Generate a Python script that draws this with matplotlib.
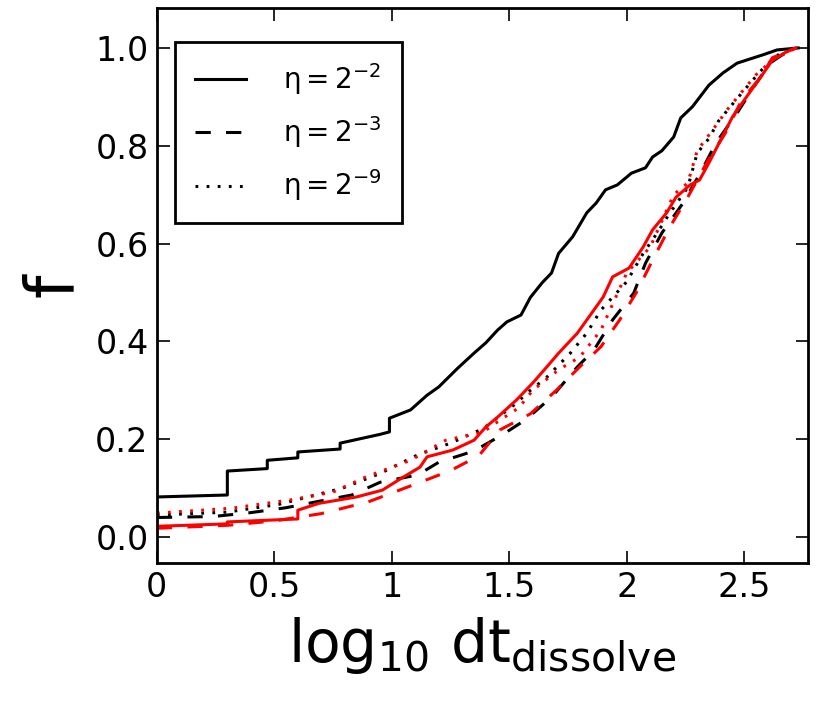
import matplotlib
matplotlib.use("Agg")
import matplotlib.pyplot as plt

# --- donnees (x = log10 dt_dissolve, y = f) ---
labels = [r"$\mathregular{\eta = 2^{-2}}$",
          r"$\mathregular{\eta = 2^{-3}}$",
          r"$\mathregular{\eta = 2^{-9}}$"]

# eta = 2^-2
x_e2_k = [0, 0.30, 0.30, 0.47, 0.47, 0.60, 0.60, 0.78, 0.78, 0.95, 0.99, 0.99, 1.08,
          1.15, 1.20, 1.28, 1.35, 1.40, 1.45, 1.49, 1.55, 1.59, 1.64, 1.68, 1.71,
          1.77, 1.83, 1.87, 1.91, 1.96, 2.02, 2.08, 2.11, 2.15, 2.20, 2.23, 2.28,
          2.35, 2.41, 2.47, 2.58, 2.64, 2.73]
y_e2_k = [0.082, 0.086, 0.135, 0.140, 0.157, 0.162, 0.174, 0.180, 0.192, 0.21, 0.215,
          0.243, 0.26, 0.29, 0.307, 0.345, 0.376, 0.397, 0.423, 0.44, 0.454, 0.49,
          0.52, 0.54, 0.58, 0.614, 0.663, 0.683, 0.71, 0.72, 0.744, 0.755, 0.777,
          0.79, 0.818, 0.857, 0.88, 0.924, 0.949, 0.969, 0.986, 0.996, 1.0]
x_e2_r = [0, 0.30, 0.30, 0.60, 0.60, 0.69, 0.85, 0.96, 1.03, 1.12, 1.15, 1.26, 1.35,
          1.40, 1.45, 1.53, 1.60, 1.66, 1.71, 1.79, 1.86, 1.90, 1.94, 2.01, 2.07,
          2.11, 2.17, 2.21, 2.27, 2.31, 2.35, 2.40, 2.45, 2.51, 2.57, 2.62, 2.68, 2.72]
y_e2_r = [0.022, 0.027, 0.031, 0.037, 0.055, 0.069, 0.082, 0.096, 0.117, 0.143, 0.164,
          0.178, 0.198, 0.225, 0.245, 0.28, 0.315, 0.348, 0.376, 0.417, 0.464, 0.491,
          0.532, 0.55, 0.593, 0.628, 0.663, 0.695, 0.72, 0.73, 0.765, 0.812, 0.859,
          0.90, 0.94, 0.975, 0.992, 1.0]

# eta = 2^-3
x_e3_k = [0, 0.24, 0.40, 0.55, 0.71, 0.83, 0.95, 1.11, 1.20, 1.35, 1.47, 1.57, 1.68,
          1.79, 1.86, 1.94, 2.03, 2.08, 2.15, 2.24, 2.32, 2.38, 2.47, 2.54, 2.61,
          2.68, 2.72]
y_e3_k = [0.04, 0.042, 0.05, 0.06, 0.075, 0.086, 0.112, 0.127, 0.153, 0.176, 0.209,
          0.24, 0.286, 0.348, 0.382, 0.444, 0.499, 0.56, 0.622, 0.683, 0.75, 0.806,
          0.867, 0.92, 0.969, 0.992, 1.0]
x_e3_r = [0, 0.30, 0.50, 0.70, 0.90, 1.11, 1.25, 1.37, 1.46, 1.59, 1.70, 1.80, 1.89,
          1.97, 2.04, 2.11, 2.18, 2.26, 2.34, 2.42, 2.49, 2.57, 2.62, 2.72]
y_e3_r = [0.018, 0.024, 0.033, 0.048, 0.072, 0.110, 0.136, 0.166, 0.219, 0.252, 0.30,
          0.348, 0.389, 0.444, 0.499, 0.566, 0.631, 0.695, 0.765, 0.826, 0.894, 0.94,
          0.98, 1.0]

# eta = 2^-9
x_e9_k = [0, 0.30, 0.52, 0.79, 0.95, 1.11, 1.25, 1.39, 1.52, 1.59, 1.66, 1.76, 1.83,
          1.89, 2.0, 2.07, 2.13, 2.18, 2.26, 2.30, 2.35, 2.39, 2.45, 2.52, 2.58,
          2.65, 2.72]
y_e9_k = [0.045, 0.051, 0.067, 0.10, 0.13, 0.168, 0.192, 0.222, 0.27, 0.30, 0.327,
          0.376, 0.417, 0.464, 0.522, 0.58, 0.622, 0.66, 0.715, 0.785, 0.815,
          0.85, 0.885, 0.925, 0.958, 0.988, 1.0]
x_e9_r = [0, 0.32, 0.57, 0.75, 0.89, 1.08, 1.23, 1.39, 1.46, 1.54, 1.60, 1.71, 1.80,
          1.89, 2.0, 2.10, 2.20, 2.26, 2.30, 2.37, 2.43, 2.49, 2.55, 2.62, 2.72]
y_e9_r = [0.049, 0.059, 0.076, 0.092, 0.123, 0.157, 0.198, 0.215, 0.239, 0.264, 0.30,
          0.342, 0.368, 0.423, 0.54, 0.593, 0.70, 0.724, 0.79, 0.835, 0.875, 0.91,
          0.945, 0.975, 1.0]

x_ticks = [0, 0.5, 1, 1.5, 2, 2.5]
x_tick_labels = ["0", "0.5", "1", "1.5", "2", "2.5"]
y_ticks = [0.0, 0.2, 0.4, 0.6, 0.8, 1.0]

plt.rcParams['font.family'] = ['DejaVu Sans']
plt.rcParams['mathtext.fontset'] = 'dejavusans'
plt.rcParams['mathtext.default'] = 'regular'
plt.rcParams['lines.scale_dashes'] = False

fig = plt.figure(figsize=(8.3, 7.15), dpi=100)
ax = fig.add_axes([0.189, 0.2126, 0.784, 0.7764])

lw = 2.2
tirets = (0, (11, 11))
points = (0, (2, 6))
ax.plot(x_e2_k, y_e2_k, color="black", ls="-", lw=lw, label=labels[0])
ax.plot(x_e3_k, y_e3_k, color="black", ls=tirets, lw=lw, label=labels[1])
ax.plot(x_e9_k, y_e9_k, color="black", ls=points, lw=lw, label=labels[2])
ax.plot(x_e2_r, y_e2_r, color="red", ls="-", lw=lw)
ax.plot(x_e3_r, y_e3_r, color="red", ls=tirets, lw=lw)
ax.plot(x_e9_r, y_e9_r, color="red", ls=points, lw=lw)

ax.set_xlim(0, 2.77)
ax.set_ylim(-0.053, 1.082)
ax.set_xticks(x_ticks)
ax.set_xticklabels(x_tick_labels)
ax.set_yticks(y_ticks)
ax.set_yticklabels(["%.1f" % v for v in y_ticks])

ax.tick_params(direction="in", length=9, width=1.2, labelsize=24,
               top=True, right=True, pad=6)
for s in ax.spines.values():
    s.set_linewidth(2)

ax.set_xlabel(r"$\mathregular{log_{10}\ dt_{dissolve}}$", fontsize=42, labelpad=8)
ax.set_ylabel("f", fontsize=48, labelpad=6)

leg = ax.legend(loc="upper left", bbox_to_anchor=(0.028, 0.939), borderaxespad=0,
                fontsize=20, fancybox=False, edgecolor="black", framealpha=1,
                handlelength=1.85, handletextpad=1.35, labelspacing=0.62,
                borderpad=0.7)
leg.get_frame().set_linewidth(2)

plt.savefig("out.png", dpi=100)
